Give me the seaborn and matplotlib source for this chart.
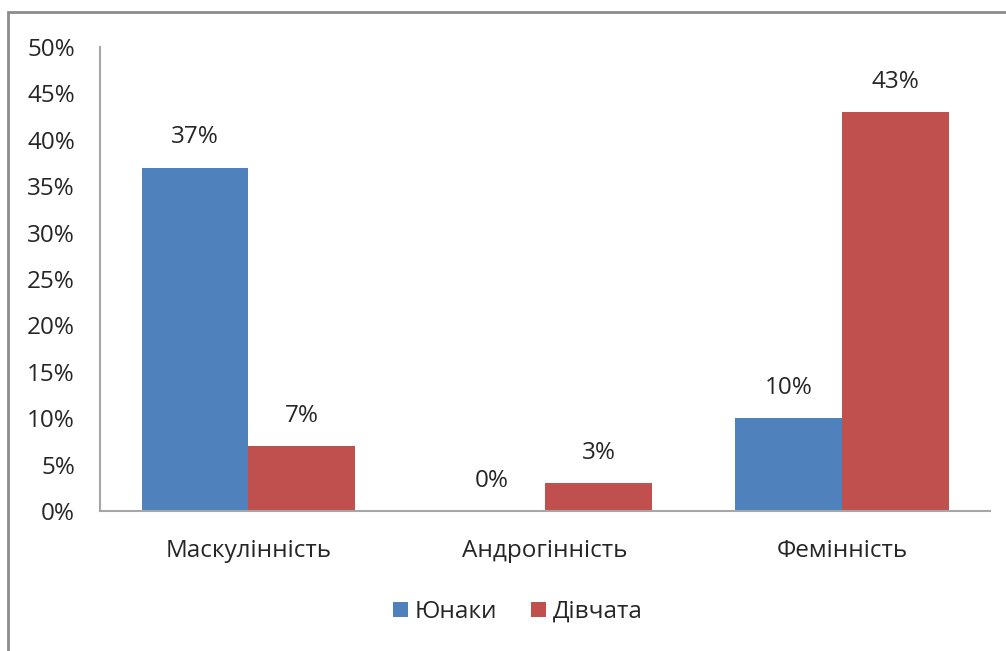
import matplotlib
matplotlib.use("Agg")
from matplotlib import pyplot as plt
from matplotlib.patches import Rectangle
from matplotlib.ticker import PercentFormatter, MultipleLocator
import seaborn as sb
import pandas as pd

# Data
categories = ["Маскулінність", "Андрогінність", "Фемінність"]
groups = ["Юнаки", "Дівчата"]
boys = [0.37, 0.00, 0.10]
girls = [0.07, 0.03, 0.43]

df = pd.DataFrame({
    "category": categories * 2,
    "group": [groups[0]] * 3 + [groups[1]] * 3,
    "value": boys + girls,
})

sb.set_theme(style="white")
plt.rcParams["font.family"] = ["Open Sans", "DejaVu Sans"]
text_color = "#262626"
fs = 17.5

fig = plt.figure(figsize=(10.06, 6.51), dpi=100)
ax = fig.add_axes([0.0994, 0.215, 0.885, 0.713])

sb.barplot(data=df, x="category", y="value", hue="group",
           palette=["#4F81BD", "#C0504D"], width=0.72,
           saturation=1, linewidth=0, ax=ax, legend=True)

for cont in ax.containers:
    ax.bar_label(cont, labels=[f"{v*100:.0f}%" for v in cont.datavalues],
                 padding=13, fontsize=fs, color=text_color)

ax.set_xlim(-0.5, 2.5)
ax.set_ylim(0, 0.5)
ax.yaxis.set_major_locator(MultipleLocator(0.05))
ax.yaxis.set_major_formatter(PercentFormatter(1.0, decimals=0))
ax.tick_params(axis="both", length=0, labelsize=fs, colors=text_color)
ax.tick_params(axis="y", pad=18)
ax.tick_params(axis="x", pad=20)
ax.set_xlabel("")
ax.set_ylabel("")
for side in ["top", "right"]:
    ax.spines[side].set_visible(False)
for side in ["left", "bottom"]:
    ax.spines[side].set_color("#A6A6A6")
    ax.spines[side].set_linewidth(1.5)

ax.get_legend().remove()
handles, labels = ax.get_legend_handles_labels()
fig.legend(handles, labels, loc="center", bbox_to_anchor=(0.515, 0.06),
           ncol=2, frameon=False, fontsize=fs, handlelength=0.6,
           handleheight=0.6, handletextpad=0.3, columnspacing=1.4,
           labelcolor=text_color)

# outer chart border (cropped on the right and bottom)
fig.patches.append(Rectangle((8 / 1006, -0.05), 1.2, 1 - 12 / 651 + 0.05,
                             transform=fig.transFigure, fill=False,
                             edgecolor="#8C8C8C", linewidth=2))

fig.savefig("out.png", dpi=100)
